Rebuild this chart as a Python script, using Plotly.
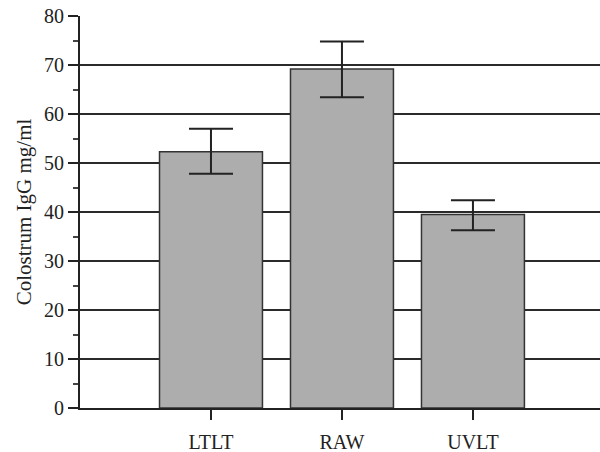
import plotly.graph_objects as go

categories = ["LTLT", "RAW", "UVLT"]
means = [52.3, 69.2, 39.5]
err_plus = [4.7, 5.6, 2.9]
err_minus = [4.5, 5.8, 3.2]
y_ticks = [0, 10, 20, 30, 40, 50, 60, 70, 80]

fig = go.Figure()
fig.add_trace(go.Bar(
    x=categories, y=means,
    width=0.786,
    marker=dict(color="#adadad", line=dict(color="#333333", width=1.5)),
    error_y=dict(type="data", symmetric=False, array=err_plus, arrayminus=err_minus,
                 color="#222222", thickness=2, width=22),
    showlegend=False,
))

font = dict(family="'Liberation Serif', 'Times New Roman', serif", size=19, color="#222222")
fig.update_layout(
    width=600, height=452,
    margin=dict(l=80, r=0, t=16, b=44),
    paper_bgcolor="white", plot_bgcolor="white",
    font=font,
    bargap=0.214,
    xaxis=dict(
        type="category", range=[-1.0, 2.97],
        showline=True, linecolor="#222222", linewidth=2,
        ticks="outside", ticklen=10, tickwidth=2, tickcolor="#222222",
        showgrid=False, zeroline=False,
        tickfont=dict(size=20), ticklabelstandoff=5,
    ),
    yaxis=dict(
        range=[0, 80], tickvals=y_ticks,
        showline=True, linecolor="#222222", linewidth=2,
        ticks="outside", ticklen=10, tickwidth=2, tickcolor="#222222",
        showgrid=True, gridcolor="#2a2a2a", gridwidth=2,
        zeroline=False,
        minor=dict(tick0=5, dtick=10, ticks="outside", ticklen=5, tickwidth=1.5,
                   tickcolor="#444444", showgrid=False),
        title=dict(text="Colostrum IgG mg/ml", font=dict(size=21), standoff=7),
        tickfont=dict(size=20),
    ),
)

fig.write_html("out.html")
